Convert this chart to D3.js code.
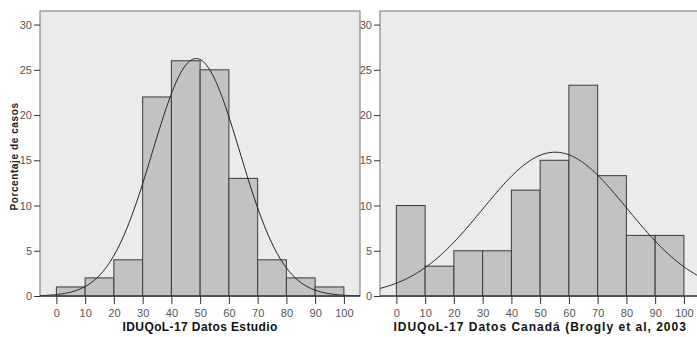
<!DOCTYPE html>
<html>
<head>
<meta charset="utf-8">
<script src="https://cdn.jsdelivr.net/npm/d3@7"></script>
<style>
  body { margin: 0; background: #fff; }
</style>
</head>
<body>
<div id="chart"></div>
<script>
const width = 697;
const height = 337;

// bins (lower edges), percentages per bin
const binStarts = [0, 10, 20, 30, 40, 50, 60, 70, 80, 90];
const estudioPct = [1, 2, 4, 22, 26, 25, 13, 4, 2, 1];
const canadaPct = [10, 3.3, 5, 5, 11.7, 15, 23.3, 13.3, 6.7, 6.7];
const xTicks = [0, 10, 20, 30, 40, 50, 60, 70, 80, 90, 100];
const yTicks = [0, 5, 10, 15, 20, 25, 30];

// fitted normal curves (mean, sd)
const estudioFit = { mean: 48.6, sd: 15.2 };
const canadaFit = { mean: 55.2, sd: 25.1 };

const titles = ['IDUQoL-17 Datos Estudio', 'IDUQoL-17 Datos Canadá (Brogly et al, 2003'];

const svg = d3.select('#chart').append('svg')
    .attr('width', width)
    .attr('height', height);

function panel(left, right, pct, fit, title, spacing, yLabel) {
    const top = 11, bottom = 296;

    const x = d3.scaleLinear().domain([-5.7, 105.6]).range([left, right]);
    const y = d3.scaleLinear().domain([0, 31.5]).range([bottom, top]);

    const g = svg.append('g');

    g.append('rect')
        .attr('x', left).attr('y', top)
        .attr('width', right - left).attr('height', bottom - top)
        .style('fill', '#ebebeb')
        .style('stroke', '#888')
        .style('stroke-width', 1.2);

    // bars
    g.selectAll('rect.bar')
        .data(binStarts)
        .enter().append('rect')
        .attr('class', 'bar')
        .attr('x', d => x(d))
        .attr('y', (d, i) => y(pct[i]))
        .attr('width', d => x(d + 10) - x(d))
        .attr('height', (d, i) => y(0) - y(pct[i]))
        .style('fill', '#c2c2c2')
        .style('stroke', '#3a3a3a')
        .style('stroke-width', 1);

    // normal curve
    const clipId = 'clip' + left;
    svg.append('clipPath').attr('id', clipId)
        .append('rect')
        .attr('x', left).attr('y', top)
        .attr('width', right - left).attr('height', bottom - top);

    const pts = d3.range(-5.7, 106, 0.5);
    const norm = v => 1000 / (fit.sd * Math.sqrt(2 * Math.PI)) *
        Math.exp(-0.5 * Math.pow((v - fit.mean) / fit.sd, 2));
    g.append('path')
        .attr('clip-path', `url(#${clipId})`)
        .attr('d', d3.line().x(d => x(d)).y(d => y(norm(d)))(pts))
        .style('fill', 'none')
        .style('stroke', '#222')
        .style('stroke-width', 1);

    // axes
    const xa = g.append('g')
        .attr('transform', `translate(0,${bottom})`)
        .call(d3.axisBottom(x).tickValues(xTicks).tickSize(8).tickPadding(5));
    xa.select('.domain').remove();
    xa.selectAll('line').style('stroke', '#333');
    g.append('line')
        .attr('x1', left).attr('x2', right)
        .attr('y1', bottom).attr('y2', bottom)
        .style('stroke', '#444').style('stroke-width', 1.5);

    const ya = g.append('g')
        .attr('transform', `translate(${left},0)`)
        .call(d3.axisLeft(y).tickValues(yTicks).tickSize(6).tickPadding(2));
    ya.select('.domain').remove();
    ya.selectAll('line').style('stroke', '#333');

    g.selectAll('.tick text')
        .style('font-family', '"Liberation Sans Narrow", "Arial Narrow", "Liberation Sans", sans-serif')
        .style('font-size', '11px')
        .style('fill', '#555');

    g.append('text')
        .attr('x', (x(0) + x(100)) / 2)
        .attr('y', 331)
        .attr('text-anchor', 'middle')
        .style('font-family', 'Liberation Sans, Arial, sans-serif')
        .style('font-weight', 'bold')
        .style('font-size', '12px')
        .style('letter-spacing', spacing + 'px')
        .style('fill', '#111')
        .text(title);

    if (yLabel) {
        g.append('text')
            .attr('transform', `translate(18,${(top + bottom) / 2 + 3}) rotate(-90)`)
            .attr('text-anchor', 'middle')
            .style('font-family', 'Liberation Sans, Arial, sans-serif')
            .style('font-weight', 'bold')
            .style('font-size', '10px')
            .style('letter-spacing', '0.6px')
            .style('fill', '#222')
            .text(yLabel);
    }
}

panel(40, 360, estudioPct, estudioFit, titles[0], 0.4, 'Porcentaje de casos');
panel(380, 700, canadaPct, canadaFit, titles[1], 1, null);
</script>
</body>
</html>
